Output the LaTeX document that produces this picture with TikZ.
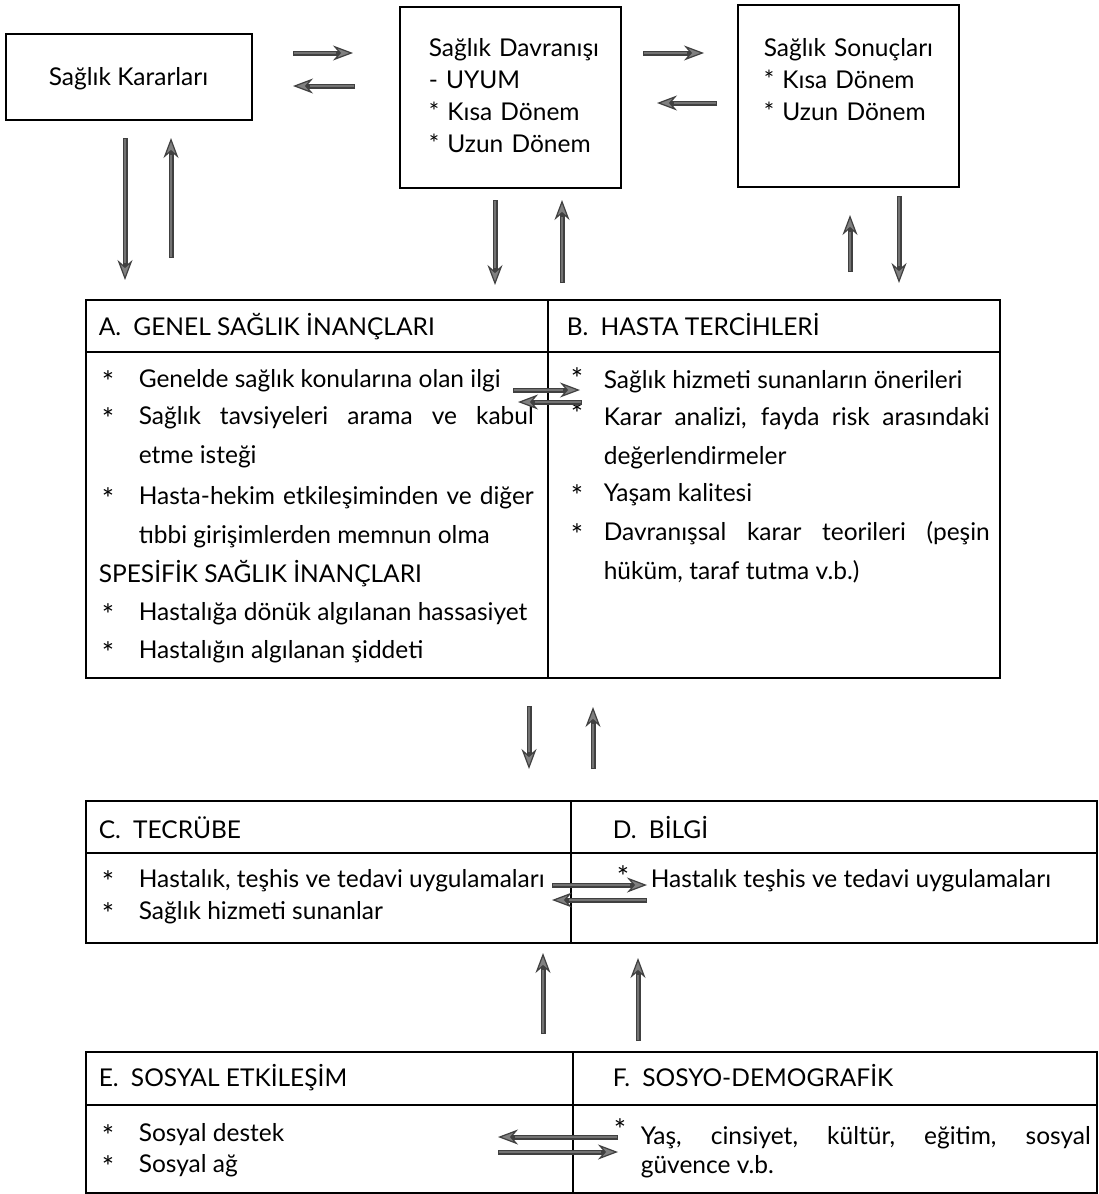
\documentclass[tikz,border=0pt]{standalone}
\usepackage{fontspec}
\setmainfont{Lato}
\usetikzlibrary{arrows.meta}
\hyphenpenalty=10000
\exhyphenpenalty=10000
\begin{document}
\begin{tikzpicture}[x=1pt, y=-1pt, line width=1.6pt,
	box/.style={draw, line width=1.6pt, inner sep=0pt},
	txt/.style={anchor=base west, inner sep=0pt, align=left, font=\fontsize{24.5}{32}\selectfont},
	ltxt/.style={txt, text width=#1},
	jtxt/.style={txt, text width=#1, align=justify, font=\fontsize{24.5}{39.5}\selectfont},
	stern/.style={txt, font=\fontsize{29}{32}\selectfont},
	arr/.style={draw=black!75, line width=5pt, -{Stealth[length=20pt, width=15pt, fill=black!50, line width=1.2pt]},
		postaction={draw=black!55, line width=2pt, arrows=-, shorten >=17pt, shorten <=1pt}}]
	\useasboundingbox (0,0) rectangle (1098,1194);
	% obere Kaesten
	\node[box, minimum width=246, minimum height=86]  (kar) at (129,77)    {};
	\node[box, minimum width=221, minimum height=181] (dav) at (510.5,97.5) {};
	\node[box, minimum width=221, minimum height=182] (son) at (848.5,96)  {};
	\node[txt] (kart) at (48,85)  {Sağlık Kararları};
	\node[ltxt=190] (davt) at (428,56) {Sağlık Davranışı\\{}- UYUM\\{}* Kısa Dönem\\{}* Uzun Dönem};
	\node[ltxt=190] (sont) at (763,56) {Sağlık Sonuçları\\{}* Kısa Dönem\\{}* Uzun Dönem};
	% A / B
	\draw (86,300) rectangle (1000,678);
	\draw (86,352) -- (1000,352);
	\draw (548,300) -- (548,678);
	\node[txt] (ah)  at (98,335)  {A.\hspace{.5em}GENEL SAĞLIK İNANÇLARI};
	\node[stern] (a1s) at (101,392) {*};
	\node[jtxt=395] (a1) at (138,387) {Genelde sağlık konularına olan ilgi};
	\node[stern] (a2s) at (101,429) {*};
	\node[jtxt=395] (a2) at (138,424) {Sağlık tavsiyeleri arama ve kabul\linebreak etme isteği};
	\node[stern] (a3s) at (101,509) {*};
	\node[jtxt=395] (a3) at (138,504) {Hasta-hekim etkileşiminden ve diğer\linebreak tıbbi girişimlerden memnun olma};
	\node[txt] (as)  at (98,582)  {SPESİFİK SAĞLIK İNANÇLARI};
	\node[stern] (a4s) at (101,625) {*};
	\node[jtxt=395] (a4) at (138,620) {Hastalığa dönük algılanan hassasiyet};
	\node[stern] (a5s) at (101,663) {*};
	\node[jtxt=395] (a5) at (138,658) {Hastalığın algılanan şiddeti};
	\node[txt] (bh)  at (566,335) {B.\hspace{.5em}HASTA TERCİHLERİ};
	\node[stern] (b1s) at (570,389) {*};
	\node[jtxt=386] (b1) at (603,388) {Sağlık hizmeti sunanların önerileri};
	\node[stern] (b2s) at (570,424) {*};
	\node[jtxt=386] (b2) at (603,425) {Karar analizi, fayda risk arasındaki\linebreak değerlendirmeler};
	\node[stern] (b3s) at (570,506) {*};
	\node[jtxt=386] (b3) at (603,501) {Yaşam kalitesi};
	\node[stern] (b4s) at (570,545) {*};
	\node[jtxt=386] (b4) at (603,540) {Davranışsal karar teorileri (peşin\linebreak hüküm, taraf tutma v.b.)};
	% C / D
	\draw (86,801) rectangle (1097,943);
	\draw (86,853) -- (1097,853);
	\draw (571,801) -- (571,943);
	\node[txt] (ch)  at (98,838)  {C.\hspace{.5em}TECRÜBE};
	\node[stern] (c1s) at (101,892) {*};
	\node[txt] (c1)  at (138,887) {Hastalık, teşhis ve tedavi uygulamaları};
	\node[stern] (c2s) at (101,924) {*};
	\node[txt] (c2)  at (138,919) {Sağlık hizmeti sunanlar};
	\node[txt] (dh)  at (612,838) {D.\hspace{.5em}BİLGİ};
	\node[stern] (d1s) at (616,887) {*};
	\node[txt] (d1)  at (650,887) {Hastalık teşhis ve tedavi uygulamaları};
	% E / F
	\draw (86,1052) rectangle (1097,1193);
	\draw (86,1105) -- (1097,1105);
	\draw (573,1052) -- (573,1193);
	\node[txt] (eh)  at (98,1086)  {E.\hspace{.5em}SOSYAL ETKİLEŞİM};
	\node[stern] (e1s) at (101,1146) {*};
	\node[txt] (e1)  at (138,1141) {Sosyal destek};
	\node[stern] (e2s) at (101,1177) {*};
	\node[txt] (e2)  at (138,1172) {Sosyal ağ};
	\node[txt] (fh)  at (612,1086) {F.\hspace{.5em}SOSYO-DEMOGRAFİK};
	\node[stern] (f1s) at (613,1140) {*};
	\node[jtxt=450, font=\fontsize{24.5}{29}\selectfont] (f1) at (640,1144) {Yaş, cinsiyet, kültür, eğitim, sosyal\linebreak güvence v.b.};
	% Pfeile
	\coordinate (kd1) at (293,53);   \coordinate (kd2) at (353,53);
	\coordinate (dk1) at (355,86);   \coordinate (dk2) at (293,86);
	\coordinate (ds1) at (643,53);   \coordinate (ds2) at (704,53);
	\coordinate (sd1) at (717,103);  \coordinate (sd2) at (657,103);
	\coordinate (ka1) at (125,138);  \coordinate (ka2) at (125,280);
	\coordinate (ak1) at (171,258);  \coordinate (ak2) at (171,138);
	\coordinate (da1) at (495,200);  \coordinate (da2) at (495,285);
	\coordinate (ad1) at (562,283);  \coordinate (ad2) at (562,200);
	\coordinate (bs1) at (850,272);  \coordinate (bs2) at (850,215);
	\coordinate (sb1) at (899,196);  \coordinate (sb2) at (899,283);
	\coordinate (ab1) at (513,390);  \coordinate (ab2) at (580,390);
	\coordinate (ba1) at (582,402);  \coordinate (ba2) at (518,402);
	\coordinate (ac1) at (529,706);  \coordinate (ac2) at (529,769);
	\coordinate (ca1) at (593,769);  \coordinate (ca2) at (593,707);
	\coordinate (cd1) at (552,885);  \coordinate (cd2) at (647,885);
	\coordinate (dc1) at (647,900);  \coordinate (dc2) at (552,900);
	\coordinate (ec1) at (543,1034); \coordinate (ec2) at (543,953);
	\coordinate (fd1) at (638,1041); \coordinate (fd2) at (638,958);
	\coordinate (fe1) at (618,1137); \coordinate (fe2) at (498,1137);
	\coordinate (ef1) at (498,1152); \coordinate (ef2) at (618,1152);
	\draw[arr] (kd1) -- (kd2);
	\draw[arr] (dk1) -- (dk2);
	\draw[arr] (ds1) -- (ds2);
	\draw[arr] (sd1) -- (sd2);
	\draw[arr] (ka1) -- (ka2);
	\draw[arr] (ak1) -- (ak2);
	\draw[arr] (da1) -- (da2);
	\draw[arr] (ad1) -- (ad2);
	\draw[arr] (bs1) -- (bs2);
	\draw[arr] (sb1) -- (sb2);
	\draw[arr] (ab1) -- (ab2);
	\draw[arr] (ba1) -- (ba2);
	\draw[arr] (ac1) -- (ac2);
	\draw[arr] (ca1) -- (ca2);
	\draw[arr] (cd1) -- (cd2);
	\draw[arr] (dc1) -- (dc2);
	\draw[arr] (ec1) -- (ec2);
	\draw[arr] (fd1) -- (fd2);
	\draw[arr] (fe1) -- (fe2);
	\draw[arr] (ef1) -- (ef2);
\end{tikzpicture}
\end{document}
